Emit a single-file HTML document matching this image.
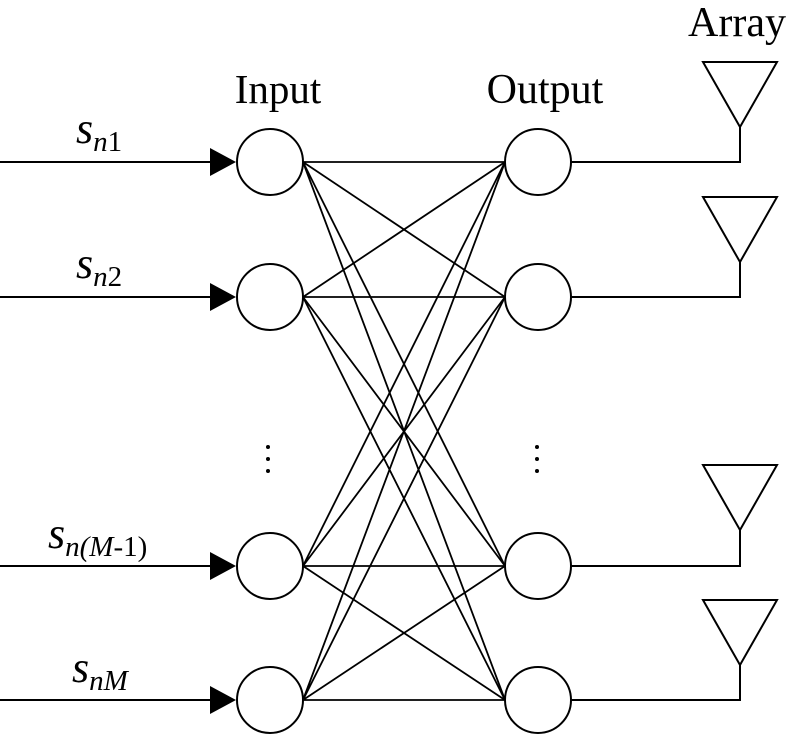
<!DOCTYPE html>
<html><head><style>body{margin:0;background:#fff}svg{display:block}</style></head><body>
<svg width="790" height="735" viewBox="0 0 790 735" xmlns="http://www.w3.org/2000/svg" font-family="'Liberation Serif', serif">
<g stroke="#000" stroke-width="2" fill="none">
<line x1="0" y1="162" x2="215" y2="162"/><line x1="0" y1="297" x2="215" y2="297"/>
<line x1="0" y1="566" x2="215" y2="566"/><line x1="0" y1="700" x2="215" y2="700"/>
<g stroke-width="1.8">
<path d="M303 162L505 162M303 162L505 297M303 162L505 566M303 162L505 700"/>
<path d="M303 297L505 162M303 297L505 297M303 297L505 566M303 297L505 700"/>
<path d="M303 566L505 162M303 566L505 297M303 566L505 566M303 566L505 700"/>
<path d="M303 700L505 162M303 700L505 297M303 700L505 566M303 700L505 700"/>
</g>
<path d="M571 162H740V127M571 297H740V262M571 566H740V530M571 700H740V665"/>
<path d="M703 62H777L740 127Z M703 197H777L740 262Z M703 465H777L740 530Z M703 600H777L740 665Z"/>
<g fill="#fff">
<circle cx="270" cy="162" r="33"/><circle cx="270" cy="297" r="33"/><circle cx="270" cy="566" r="33"/><circle cx="270" cy="700" r="33"/>
<circle cx="538" cy="162" r="33"/><circle cx="538" cy="297" r="33"/><circle cx="538" cy="566" r="33"/><circle cx="538" cy="700" r="33"/>
</g>
</g>
<g fill="#000">
<path d="M210 148L236 162L210 176Z M210 283L236 297L210 311Z M210 552L236 566L210 580Z M210 686L236 700L210 714Z"/>
<circle cx="268" cy="447" r="2"/><circle cx="268" cy="459" r="2"/><circle cx="268" cy="471" r="2"/>
<circle cx="537" cy="447" r="2"/><circle cx="537" cy="459" r="2"/><circle cx="537" cy="471" r="2"/>
</g>
<g text-anchor="middle">
<text x="278" y="103" font-size="41">Input</text>
<text x="545" y="103" font-size="42">Output</text>
<text x="737" y="36" font-size="42">Array</text>
</g>
<g font-size="44" font-style="italic">
<text x="76" y="143">s<tspan font-size="29" dy="8">n</tspan><tspan font-size="29" font-style="normal">1</tspan></text>
<text x="76" y="278">s<tspan font-size="29" dy="8">n</tspan><tspan font-size="29" font-style="normal">2</tspan></text>
<text x="48" y="548">s<tspan font-size="29" dy="8">n(M</tspan><tspan font-size="29" font-style="normal">-1)</tspan></text>
<text x="72" y="682">s<tspan font-size="29" dy="8">nM</tspan></text>
</g>
</svg>
</body></html>
